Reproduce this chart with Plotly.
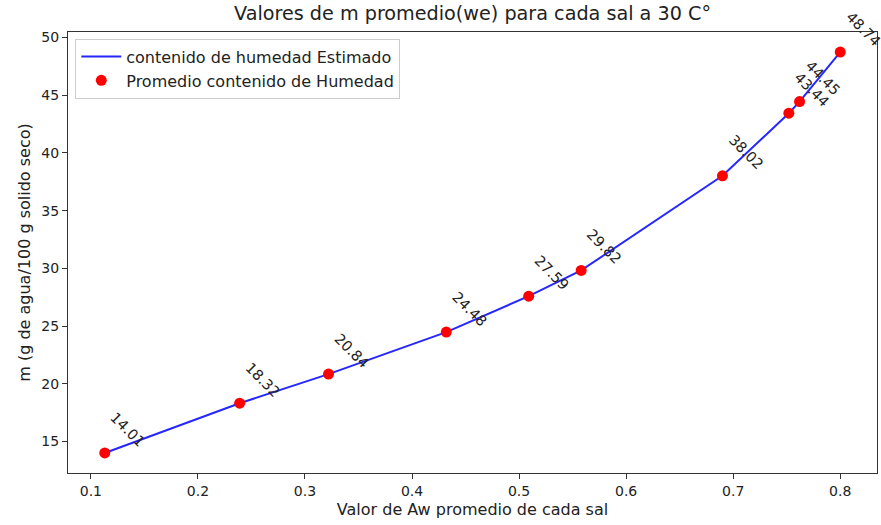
import plotly.graph_objects as go

# Water activity of each salt (average) and mean moisture content
aw = [0.113, 0.239, 0.322, 0.432, 0.509, 0.558, 0.690, 0.752, 0.762, 0.800]
humedad_prom = [14.01, 18.32, 20.84, 24.48, 27.59, 29.82, 38.02, 43.44, 44.45, 48.74]
humedad_est = [14.01, 18.32, 20.84, 24.48, 27.59, 29.82, 38.02, 43.44, 44.45, 48.74]

x_ticks = [0.1, 0.2, 0.3, 0.4, 0.5, 0.6, 0.7, 0.8]
y_ticks = [15, 20, 25, 30, 35, 40, 45, 50]

FONT = "DejaVu Sans"

fig = go.Figure()
fig.add_trace(go.Scatter(
    x=aw, y=humedad_est, mode="lines",
    line=dict(color="rgba(0,0,255,0.85)", width=2),
    name="contenido de humedad Estimado",
))
fig.add_trace(go.Scatter(
    x=aw, y=humedad_prom, mode="markers",
    marker=dict(color="#ff0000", size=11),
    name="Promedio contenido de Humedad",
))

# Value labels, rotated, sitting to the upper right of each point
for xv, yv in zip(aw, humedad_prom):
    fig.add_annotation(
        x=xv, y=yv, text=f"{yv:.2f}", showarrow=False,
        textangle=45, xanchor="left", yanchor="bottom",
        font=dict(family=FONT, size=14.5, color="#222"),
    )

span_x = max(aw) - min(aw)
span_y = max(humedad_prom) - min(humedad_prom)

axis_common = dict(
    showgrid=False, zeroline=False, showline=True, linecolor="#333",
    linewidth=1, mirror=True, ticks="outside", ticklen=5, tickcolor="#333",
    tickfont=dict(family=FONT, size=14, color="#222"),
)

fig.update_layout(
    width=881, height=525,
    margin=dict(l=68, r=4, t=32, b=52),
    paper_bgcolor="white", plot_bgcolor="white",
    title=dict(text="Valores de m promedio(we) para cada sal a 30 C°",
               x=0.5, xref="paper", y=0.974, yanchor="middle",
               font=dict(family=FONT, size=19.2, color="#222")),
    xaxis=dict(range=[min(aw) - 0.05 * span_x, max(aw) + 0.05 * span_x],
               tickvals=x_ticks, ticktext=[str(t) for t in x_ticks],
               title=dict(text="Valor de Aw promedio de cada sal", standoff=6,
                          font=dict(family=FONT, size=16, color="#222")),
               **axis_common),
    yaxis=dict(range=[min(humedad_prom) - 0.05 * span_y, max(humedad_prom) + 0.05 * span_y],
               tickvals=y_ticks,
               title=dict(text="m (g de agua/100 g solido seco)", standoff=6,
                          font=dict(family=FONT, size=16, color="#222")),
               **axis_common),
    legend=dict(x=0.009, y=0.985, xanchor="left", yanchor="top",
                bgcolor="rgba(255,255,255,0.8)", bordercolor="#ccc", borderwidth=1,
                itemwidth=40,
                font=dict(family=FONT, size=16, color="#222")),
    showlegend=True,
)

fig.write_html("out.html")
